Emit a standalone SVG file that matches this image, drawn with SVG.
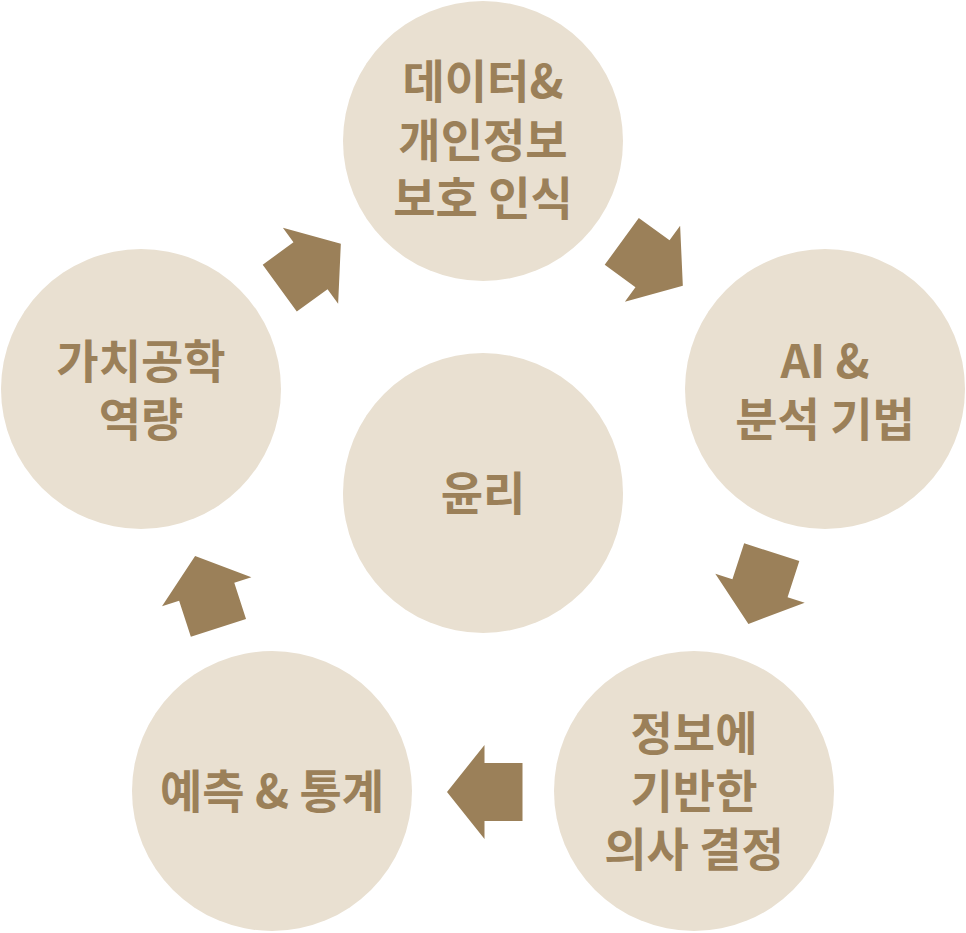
<svg xmlns="http://www.w3.org/2000/svg" width="966" height="933" viewBox="0 0 966 933">
  <style>
    .node circle { fill: #E9E0D1; }
    .node text { fill: #9B8059; font-family: "Noto Sans CJK KR", "Noto Sans", sans-serif; font-weight: bold; font-size: 46px; text-anchor: middle; }
    .arrow { fill: #9B8059; }
  </style>
  <defs>
    <path id="blockArrow" d="M37.5,0 L0,-47 L0,-29 L-38,-29 L-38,29 L0,29 L0,47 Z"/>
  </defs>
  <rect width="966" height="933" fill="#FFFFFF"/>
  <g id="connectors">
    <use href="#blockArrow" class="arrow" transform="translate(652.5,263.7) rotate(36)"/>
    <use href="#blockArrow" class="arrow" transform="translate(760,588.3) rotate(108)"/>
    <use href="#blockArrow" class="arrow" transform="translate(484.5,792) rotate(180)"/>
    <use href="#blockArrow" class="arrow" transform="translate(206.7,591.7) rotate(252)"/>
    <use href="#blockArrow" class="arrow" transform="translate(310.5,265.8) rotate(-36)"/>
  </g>
  <g id="node-data" class="node">
    <circle cx="483" cy="141" r="140"/>
    <text x="483" y="98"><tspan x="483" y="98">데이터&amp;</tspan><tspan x="483" y="157">개인정보</tspan><tspan x="483" y="215">보호 인식</tspan></text>
  </g>
  <g id="node-ai" class="node">
    <circle cx="825" cy="389" r="140"/>
    <text x="825" y="378"><tspan x="825" y="378">AI &amp;</tspan><tspan x="825" y="436">분석 기법</tspan></text>
  </g>
  <g id="node-decision" class="node">
    <circle cx="694" cy="791" r="140"/>
    <text x="694" y="750"><tspan x="694" y="750">정보에</tspan><tspan x="694" y="808">기반한</tspan><tspan x="694" y="866">의사 결정</tspan></text>
  </g>
  <g id="node-predict" class="node">
    <circle cx="272" cy="791" r="140"/>
    <text x="272" y="808">예측 &amp; 통계</text>
  </g>
  <g id="node-value" class="node">
    <circle cx="141" cy="389" r="140"/>
    <text x="141" y="378"><tspan x="141" y="378">가치공학</tspan><tspan x="141" y="436">역량</tspan></text>
  </g>
  <g id="node-ethics" class="node">
    <circle cx="483" cy="493" r="140"/>
    <text x="483" y="510">윤리</text>
  </g>
</svg>
